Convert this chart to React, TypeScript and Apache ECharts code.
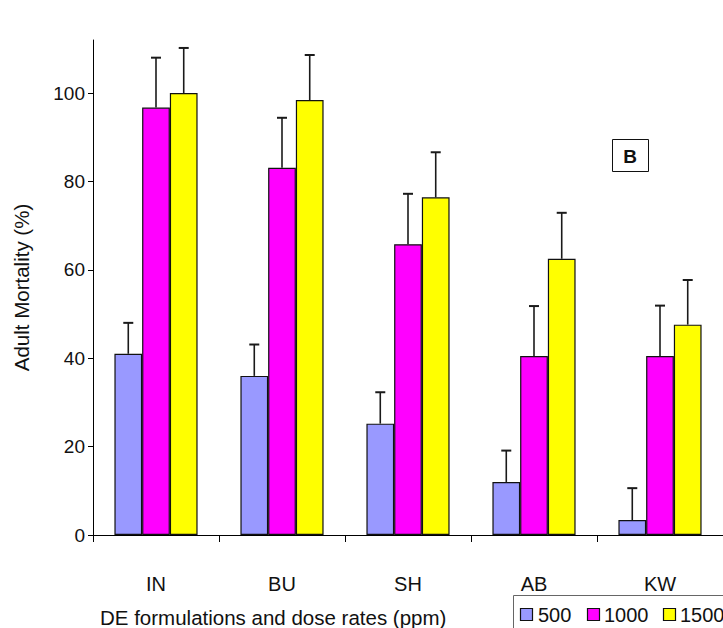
import React, { useEffect, useRef } from "react";
import * as echarts from "echarts";

const categories = ["IN", "BU", "SH", "AB", "KW"];
const seriesNames = ["500", "1000", "1500"];
const values500 = [41, 36, 25.2, 12, 3.4];
const values1000 = [96.7, 83.1, 65.8, 40.5, 40.5];
const values1500 = [100, 98.4, 76.4, 62.5, 47.6];
const err500 = [7, 7.1, 7.1, 7.1, 7.2];
const err1000 = [11.3, 11.3, 11.4, 11.3, 11.4];
const err1500 = [10.2, 10.2, 10.2, 10.4, 10.1];
const yTicks = [0, 20, 40, 60, 80, 100];
const colors = ["#9999FF", "#FF00FF", "#FFFF00"];

const FONT = "Liberation Sans, Arial, sans-serif";
const CAT_GAP = 0.34;

export default function App() {
  const ref = useRef<HTMLDivElement>(null);
  useEffect(() => {
    document.body.style.margin = "0";
    if (!ref.current) return;
    const chart = echarts.init(ref.current, null, { renderer: "svg" });
    const vals = [values500, values1000, values1500];
    const errs = [err500, err1000, err1500];
    const errData: number[][] = [];
    vals.forEach((arr, s) => {
      arr.forEach((v, c) => {
        errData.push([c, s, v + errs[s][c], v]);
      });
    });

    // legend drawn as graphic (box runs past the page edge, as in the reference)
    const legendIconX = [520, 587, 663];
    const legendTextX = [538, 604, 680];
    const legendItems: any[] = [
      {
        type: "rect",
        shape: { x: 513.5, y: 595.5, width: 300, height: 60 },
        style: { fill: "#fff", stroke: "#666", lineWidth: 1 },
        z: 10,
      },
    ];
    seriesNames.forEach((name, s) => {
      legendItems.push({
        type: "rect",
        shape: { x: legendIconX[s] + 0.5, y: 608.5, width: 12, height: 12 },
        style: { fill: colors[s], stroke: "#111", lineWidth: 1.2 },
        z: 11,
      });
      legendItems.push({
        type: "text",
        x: legendTextX[s],
        y: 615,
        style: {
          text: name,
          fontFamily: FONT,
          fontSize: 20,
          fill: "#111",
          align: "left",
          verticalAlign: "middle",
        },
        z: 11,
      });
    });

    chart.setOption({
      animation: false,
      grid: { left: 93, top: 40, right: -4, bottom: 93, containLabel: false },
      xAxis: {
        type: "category",
        data: categories,
        axisLine: { lineStyle: { color: "#000", width: 1 } },
        axisTick: { show: true, length: 7, alignWithLabel: false, lineStyle: { color: "#000" } },
        axisLabel: { fontFamily: FONT, fontSize: 20, color: "#111", margin: 39 },
        splitLine: { show: false },
      },
      yAxis: {
        type: "value",
        min: 0,
        max: 112,
        interval: 20,
        name: "Adult Mortality (%)",
        nameLocation: "middle",
        nameGap: 61,
        nameTextStyle: { fontFamily: FONT, fontSize: 20.5, color: "#111" },
        axisLine: { show: true, lineStyle: { color: "#000", width: 1 } },
        axisTick: { show: true, length: 5, lineStyle: { color: "#000" }, customValues: yTicks },
        axisLabel: {
          fontFamily: FONT,
          fontSize: 19,
          color: "#111",
          margin: 8,
          customValues: yTicks,
        },
        splitLine: { show: false },
      },
      series: [
        ...seriesNames.map((name, s) => ({
          type: "bar",
          name,
          data: vals[s],
          barGap: "0%",
          barCategoryGap: CAT_GAP * 100 + "%",
          itemStyle: { color: colors[s], borderColor: "#111", borderWidth: 1.2 },
          z: 2,
        })),
        {
          type: "custom",
          name: "err",
          data: errData,
          encode: { x: 0, y: 2 },
          z: 3,
          renderItem: (params: any, api: any) => {
            const c = api.value(0);
            const s = api.value(1);
            const top = api.value(2);
            const v = api.value(3);
            const pTop = api.coord([c, top]);
            const pBase = api.coord([c, v]);
            const band = api.size([1, 0])[0];
            const bw = (band * (1 - CAT_GAP)) / 3;
            const x = pTop[0] + (s - 1) * bw;
            return {
              type: "group",
              children: [
                {
                  type: "line",
                  shape: { x1: x, y1: pBase[1], x2: x, y2: pTop[1] },
                  style: { stroke: "#1a1a1a", lineWidth: 1.6 },
                },
                {
                  type: "line",
                  shape: { x1: x - 5, y1: pTop[1], x2: x + 5, y2: pTop[1] },
                  style: { stroke: "#1a1a1a", lineWidth: 2 },
                },
              ],
            };
          },
        },
      ],
      graphic: [
        {
          type: "rect",
          shape: { x: 612.5, y: 139.5, width: 36, height: 32 },
          style: { fill: "#fff", stroke: "#111", lineWidth: 1 },
        },
        {
          type: "text",
          x: 630,
          y: 156,
          style: {
            text: "B",
            fontFamily: FONT,
            fontSize: 19,
            fontWeight: "bold",
            fill: "#111",
            align: "center",
            verticalAlign: "middle",
          },
        },
        {
          type: "text",
          x: 100,
          y: 617,
          style: {
            text: "DE formulations and dose rates (ppm)",
            fontFamily: FONT,
            fontSize: 20.5,
            fill: "#111",
            align: "left",
            verticalAlign: "middle",
          },
        },
        ...legendItems,
      ],
    });
    return () => chart.dispose();
  }, []);
  return <div ref={ref} style={{ width: 723, height: 628 }} />;
}
